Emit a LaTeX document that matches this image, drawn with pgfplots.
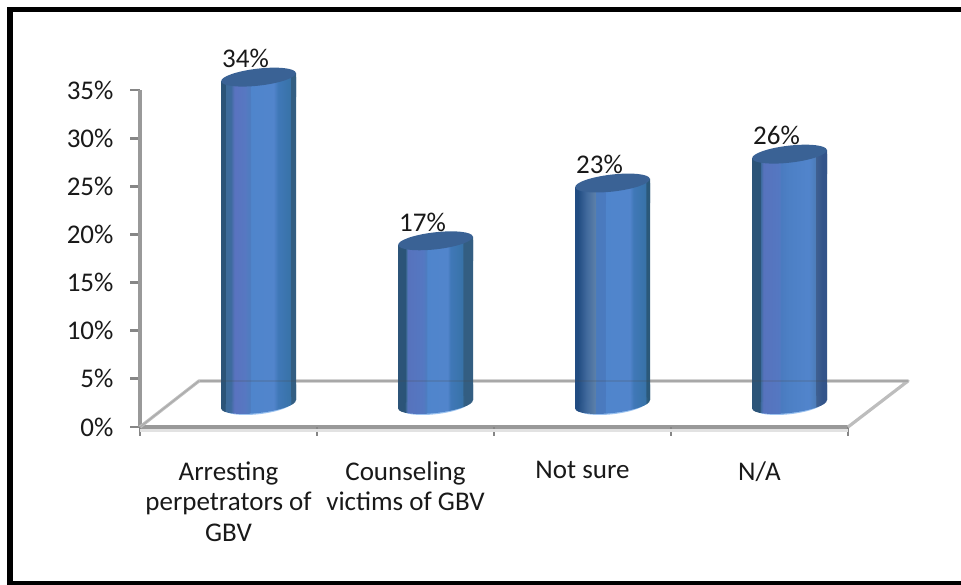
\documentclass[border=0pt]{standalone}
\usepackage{pgfplots}
\pgfplotsset{compat=1.18}
\usepackage{fontspec}
\setmainfont{Carlito}
\definecolor{axgray}{HTML}{999999}
\definecolor{tickgray}{HTML}{868686}
\definecolor{floorgray}{HTML}{BDBDBD}
\definecolor{lightgray2}{HTML}{E2E2E2}
\definecolor{toptop}{HTML}{3A6295}
\definecolor{rim}{HTML}{9CC3F0}
\pgfdeclarehorizontalshading{cylA}{100bp}{rgb(0bp)=(0.18,0.33,0.47); rgb(27.8bp)=(0.17,0.33,0.47); rgb(28bp)=(0.24,0.42,0.60); rgb(31.6bp)=(0.24,0.42,0.62); rgb(34bp)=(0.35,0.45,0.75); rgb(41bp)=(0.34,0.47,0.76); rgb(44.8bp)=(0.30,0.49,0.75); rgb(45bp)=(0.31,0.52,0.80); rgb(60bp)=(0.32,0.52,0.80); rgb(63bp)=(0.25,0.47,0.72); rgb(71bp)=(0.22,0.45,0.66); rgb(71.5bp)=(0.20,0.37,0.51); rgb(100bp)=(0.20,0.37,0.51)}
\pgfdeclarehorizontalshading{cylB}{100bp}{rgb(0bp)=(0.18,0.33,0.47); rgb(30bp)=(0.17,0.33,0.47); rgb(30.5bp)=(0.24,0.42,0.60); rgb(31.5bp)=(0.34,0.45,0.74); rgb(42bp)=(0.33,0.47,0.76); rgb(44bp)=(0.30,0.49,0.75); rgb(44.5bp)=(0.31,0.52,0.80); rgb(58bp)=(0.32,0.52,0.80); rgb(60bp)=(0.25,0.47,0.72); rgb(68bp)=(0.22,0.45,0.66); rgb(68.5bp)=(0.20,0.37,0.51); rgb(100bp)=(0.20,0.37,0.51)}
\pgfdeclarehorizontalshading{cylC}{100bp}{rgb(0bp)=(0.12,0.29,0.50); rgb(27bp)=(0.13,0.30,0.51); rgb(33bp)=(0.26,0.42,0.62); rgb(38.5bp)=(0.36,0.50,0.66); rgb(39bp)=(0.29,0.48,0.74); rgb(45bp)=(0.29,0.48,0.75); rgb(45.5bp)=(0.31,0.52,0.80); rgb(61.5bp)=(0.32,0.52,0.80); rgb(64bp)=(0.25,0.47,0.72); rgb(72bp)=(0.22,0.45,0.66); rgb(72.5bp)=(0.17,0.35,0.48); rgb(100bp)=(0.17,0.35,0.48)}
\pgfdeclarehorizontalshading{cylD}{100bp}{rgb(0bp)=(0.18,0.33,0.47); rgb(30.5bp)=(0.17,0.33,0.47); rgb(31bp)=(0.24,0.42,0.62); rgb(32.6bp)=(0.34,0.45,0.74); rgb(43.5bp)=(0.33,0.47,0.76); rgb(44bp)=(0.29,0.48,0.75); rgb(49bp)=(0.30,0.50,0.77); rgb(62.8bp)=(0.32,0.52,0.80); rgb(67bp)=(0.30,0.49,0.73); rgb(67.3bp)=(0.25,0.38,0.57); rgb(72bp)=(0.20,0.33,0.54); rgb(100bp)=(0.18,0.32,0.53)}
\newcommand{\defcyl}[1]{%
 \pgfdeclareplotmark{top#1}{%
  \pgfsetfillcolor{white}%
  \pgfpathrectanglecorners{\pgfpoint{-40bp}{-4.3bp}}{\pgfpoint{0bp}{1bp}}\pgfusepathqfill
  \pgfpathmoveto{\pgfpoint{-37.5bp}{-20bp}}\pgfpathlineto{\pgfpoint{-37.5bp}{-4.3bp}}%
  \pgfpathlineto{\pgfpoint{37.5bp}{4.3bp}}\pgfpathlineto{\pgfpoint{37.5bp}{-20bp}}\pgfpathclose
  \pgfshadepath{#1}{0}\pgfusepath{discard}%
  \pgfsetfillcolor{toptop}%
  \pgfpathellipse{\pgfpointorigin}{\pgfpoint{37.3bp}{4.25bp}}{\pgfpoint{-0.96bp}{8.45bp}}\pgfusepathqfill}%
 \pgfdeclareplotmark{bot#1}{%
  \pgfsetfillcolor{white}%
  \pgfpathrectanglecorners{\pgfpoint{0bp}{-1bp}}{\pgfpoint{40bp}{4.3bp}}\pgfusepathqfill
  \pgfsetfillcolor{rim}%
  \pgfpathellipse{\pgfpoint{0bp}{-1.2bp}}{\pgfpoint{34bp}{3.9bp}}{\pgfpoint{-0.96bp}{8.45bp}}\pgfusepathqfill
  \pgfpathmoveto{\pgfpoint{-37.5bp}{20bp}}\pgfpathlineto{\pgfpoint{-37.5bp}{-4.3bp}}%
  \pgfpathlineto{\pgfpoint{37.5bp}{4.3bp}}\pgfpathlineto{\pgfpoint{37.5bp}{20bp}}\pgfpathclose
  \pgfshadepath{#1}{0}\pgfusepath{discard}%
  \pgfpathellipse{\pgfpointorigin}{\pgfpoint{37.3bp}{4.25bp}}{\pgfpoint{-0.96bp}{8.45bp}}%
  \pgfshadepath{#1}{0}\pgfusepath{discard}}}
\defcyl{cylA}\defcyl{cylB}\defcyl{cylC}\defcyl{cylD}
\newcommand{\onebar}[3]{% shading, x, value
 \addplot[ybar,bar width=75bp,bar shift=0pt,draw=none,shade,shading=#1] coordinates {(#2,#3)};
 \addplot[only marks,mark=bot#1] coordinates {(#2,0)};
 \addplot[only marks,mark=top#1] coordinates {(#2,#3)};
}
\begin{document}
\begin{tikzpicture}[x=1bp,y=1bp]
\useasboundingbox (0,0) rectangle (961,585);
\fill[black] (7,0) rectangle (12.7,578);
\fill[black] (7,573) rectangle (961,578);
\fill[black] (7,0) rectangle (961,4);
\begin{axis}[
  at={(140bp,158bp)},anchor=south west,scale only axis,
  width=708bp,height=337bp,
  xmin=-0.5,xmax=3.5,ymin=0,ymax=35,
  clip=false,
  axis x line=bottom,axis y line=left,
  axis line style={-,draw=axgray,line width=3.2bp},
  xtick={0,1,2,3},
  xticklabels={{Arresting\\perpetrators of\\GBV},{Counseling\\victims of GBV},{Not sure},{N/A}},
  xticklabel style={align=center,font=\fontsize{27bp}{30.5bp}\selectfont,anchor=north,yshift=-21bp,text=black!90},
  tick style={line width=2.8bp},
  xtick style={draw=none},
  extra x ticks={-0.5,0.5,1.5,2.5,3.5},
  extra x tick labels={},
  extra x tick style={xtick style={draw=tickgray},major tick length=9bp},
  ytick={0,5,...,35},
  yticklabel={\pgfmathprintnumber{\tick}\%},
  /pgf/number format/assume math mode=true,
  yticklabel style={font=\fontsize{27bp}{30bp}\selectfont,anchor=east,xshift=-13bp,text=black!90},
  ytick style={draw=tickgray},
  major tick length=10bp,
  tick align=outside,
]
\addplot[draw=lightgray2,line width=3bp,forget plot] coordinates {(-0.5,-0.32)(3.5,-0.32)};
\addplot[draw=floorgray,line width=3.2bp,line join=round,forget plot] coordinates {(-0.5,0)(-0.1667,4.78)(3.839,4.78)(3.5,0)};
\addplot[draw=axgray,line width=1bp,opacity=.5,forget plot] coordinates {(-0.5,0)(-0.1667,4.78)};
\end{axis}
\begin{axis}[
  at={(170bp,180.5bp)},anchor=south west,scale only axis,
  width=708bp,height=337bp,
  xmin=-0.5,xmax=3.5,ymin=0,ymax=35,
  clip=false,hide axis,
]
\onebar{cylA}{0}{34}
\onebar{cylB}{1}{17}
\onebar{cylC}{2}{23}
\onebar{cylD}{3}{26}
\addplot[draw=black!70,line width=2bp,opacity=.18,forget plot] coordinates {(-0.33,2.44)(3.67,2.44)};
\addplot[only marks,mark=none,
  point meta=y,
  nodes near coords={\pgfmathprintnumber{\pgfplotspointmeta}\%},
  /pgf/number format/assume math mode=true,
  nodes near coords style={anchor=base,xshift=-13bp,yshift=9.5bp,inner sep=0pt,
    font=\fontsize{27bp}{30bp}\selectfont,text=black!90},
  ] coordinates {(0,34)(1,17)(2,23)(3,26)};
\end{axis}
\end{tikzpicture}
\end{document}
